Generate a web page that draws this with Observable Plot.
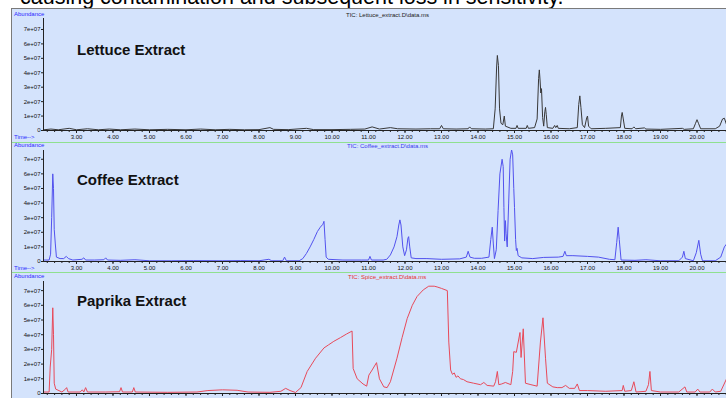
<!DOCTYPE html>
<html><head><meta charset="utf-8">
<script src="https://cdn.jsdelivr.net/npm/d3@7"></script>
<script src="https://cdn.jsdelivr.net/npm/@observablehq/plot@0.6"></script>
<style>
html,body{margin:0;padding:0;background:#fff;}
#page{position:relative;width:726px;height:398px;overflow:hidden;font-family:"Liberation Sans",Arial,sans-serif;}
#heading{position:absolute;left:20px;top:-13px;font-size:21.5px;line-height:1;color:#000;white-space:nowrap;}
#frame{position:absolute;left:11px;top:8px;width:715px;height:390px;background:#d4e3fc;border-left:1px solid #7a7a7a;border-top:1px solid #7a7a7a;}
.sep{position:absolute;left:12px;width:714px;height:1px;background:#8fe08f;}
.lbl{position:absolute;font-size:6px;line-height:6px;white-space:nowrap;}
.title{position:absolute;left:77px;font-size:15px;font-weight:bold;line-height:15px;color:#111;white-space:nowrap;}
.panel{position:absolute;left:0;}
</style></head><body>
<div id="page">
  <div id="heading">causing contamination and subsequent loss in sensitivity.</div>
  <div id="frame"></div>
  <div class="sep" style="top:142px"></div>
  <div class="sep" style="top:272px"></div>
</div>
<script>
// ---------- data (abundance in units of 1e+07) ----------
const lettuceTime = [2.10,2.3,2.5,2.8,3.0,3.3,3.6,3.9,4.2,4.6,5.0,5.5,6.0,6.4,6.8,7.2,7.6,8.0,8.3,8.4,8.8,9.3,9.5,10.0,10.5,10.9,11.1,11.3,11.6,11.8,12.3,12.7,12.95,13.0,13.05,13.4,13.73,13.77,13.82,14.2,14.42,14.47,14.51,14.53,14.56,14.59,14.63,14.68,14.72,14.75,14.9,15.04,15.07,15.1,15.32,15.35,15.38,15.55,15.62,15.66,15.68,15.7,15.72,15.74,15.77,15.8,15.83,15.85,15.87,15.9,16.05,16.1,16.13,16.17,16.2,16.5,16.72,16.76,16.79,16.82,16.86,16.92,16.98,17.0,17.03,17.1,17.5,17.9,17.93,17.95,17.98,18.02,18.22,18.27,18.32,18.56,18.6,19.0,19.6,19.65,19.9,19.96,20.0,20.04,20.1,20.5,20.62,20.7,20.75,20.81];
const lettuceAbund = [0.05,0.1,0.05,0.15,0.05,0.12,0.05,0.1,0.05,0.1,0.05,0.08,0.05,0.1,0.05,0.08,0.05,0.06,0.2,0.08,0.06,0.15,0.06,0.06,0.08,0.1,0.25,0.1,0.2,0.12,0.1,0.12,0.12,0.35,0.12,0.1,0.12,0.25,0.12,0.1,0.12,1.5,4.4,5.2,4.5,1.5,0.5,0.4,1.0,0.3,0.15,0.15,0.35,0.15,0.15,0.35,0.15,0.2,0.8,3.6,4.2,3.5,2.6,2.9,0.9,0.3,1.3,1.6,1.1,0.2,0.15,0.35,0.2,0.35,0.15,0.12,0.2,1.8,2.4,1.6,0.4,0.2,0.9,1.0,0.3,0.12,0.15,0.2,1.0,1.25,0.8,0.15,0.12,0.25,0.12,0.18,0.1,0.08,0.15,0.08,0.12,0.5,0.75,0.5,0.12,0.12,0.3,0.8,0.85,0.4];

const coffeeTime = [2.10,2.25,2.29,2.32,2.35,2.37,2.39,2.42,2.45,2.55,2.65,2.72,2.78,2.9,3.15,3.2,3.25,3.5,3.75,3.8,3.85,4.2,4.6,5.0,5.6,6.2,7.0,7.5,8.0,8.27,8.35,8.65,8.7,8.75,9.1,9.2,9.3,9.4,9.5,9.6,9.68,9.75,9.78,9.81,9.84,9.9,10.3,10.8,11.0,11.04,11.08,11.4,11.5,11.6,11.7,11.78,11.83,11.86,11.89,11.94,11.99,12.04,12.08,12.1,12.13,12.17,12.3,12.6,13.0,13.5,13.68,13.73,13.78,13.9,14.1,14.3,14.35,14.39,14.42,14.45,14.5,14.55,14.6,14.66,14.69,14.71,14.73,14.75,14.77,14.8,14.84,14.88,14.92,14.95,14.98,15.0,15.03,15.05,15.07,15.1,15.2,15.5,15.8,16.2,16.33,16.38,16.42,16.6,17.0,17.3,17.6,17.75,17.8,17.84,17.87,17.92,18.3,18.6,19.0,19.5,19.6,19.64,19.68,19.9,19.98,20.05,20.1,20.15,20.5,20.65,20.75,20.81];
const coffeeAbund = [0.1,0.1,0.5,3.0,6.0,5.0,2.2,1.2,0.3,0.2,0.2,0.35,0.2,0.1,0.15,0.25,0.1,0.1,0.12,0.25,0.1,0.08,0.12,0.05,0.05,0.06,0.05,0.06,0.05,0.15,0.05,0.05,0.3,0.05,0.05,0.2,0.55,1.0,1.5,2.05,2.35,2.55,2.75,1.5,0.3,0.15,0.1,0.1,0.1,0.35,0.1,0.1,0.15,0.45,1.0,1.7,2.5,2.85,2.5,1.0,0.4,0.8,1.6,1.7,1.0,0.25,0.2,0.2,0.15,0.18,0.3,0.7,0.3,0.22,0.22,0.3,1.5,2.35,1.2,0.2,0.8,3.5,6.0,7.0,6.5,3.7,1.4,2.8,1.9,1.0,4.0,7.0,7.65,7.3,5.0,3.7,1.5,0.75,0.9,0.4,0.25,0.2,0.28,0.3,0.35,0.7,0.4,0.4,0.35,0.3,0.15,0.12,1.3,2.35,1.5,0.1,0.08,0.12,0.05,0.05,0.3,0.7,0.2,0.05,0.6,1.45,0.5,0.05,0.05,0.3,1.0,1.2];

const paprikaTime = [2.10,2.25,2.28,2.32,2.35,2.37,2.39,2.43,2.6,2.7,2.73,2.77,3.1,3.16,3.2,3.25,3.3,3.8,4.18,4.22,4.26,4.53,4.57,4.61,5.5,6.3,6.6,7.0,7.4,7.7,8.3,8.6,8.73,8.85,9.0,9.15,9.32,9.55,9.78,9.9,10.05,10.23,10.4,10.55,10.58,10.69,10.85,10.95,11.01,11.1,11.22,11.3,11.42,11.51,11.6,11.78,11.92,12.06,12.2,12.33,12.5,12.65,12.8,12.88,13.0,13.16,13.2,13.25,13.3,13.35,13.4,13.45,13.52,13.6,13.7,13.88,14.07,14.16,14.25,14.43,14.48,14.53,14.57,14.65,14.75,14.9,14.95,14.98,15.05,15.15,15.18,15.24,15.3,15.45,15.62,15.71,15.78,15.85,15.9,16.05,16.17,16.3,16.4,16.5,16.65,16.72,16.78,17.0,17.5,17.95,17.98,18.02,18.2,18.27,18.33,18.6,18.67,18.71,18.75,19.0,19.5,19.67,19.72,19.95,20.02,20.08,20.35,20.42,20.5,20.65,20.81];
const paprikaAbund = [0.1,0.1,1.8,3.0,5.83,4.0,0.7,0.3,0.1,0.3,0.4,0.1,0.1,0.25,0.1,0.4,0.1,0.1,0.12,0.4,0.1,0.1,0.4,0.1,0.08,0.1,0.2,0.25,0.22,0.1,0.08,0.15,0.35,0.2,0.07,0.4,1.5,2.4,3.1,3.3,3.55,3.8,4.05,4.25,1.7,1.0,0.65,0.5,1.25,1.6,2.1,1.0,0.45,0.4,0.8,2.4,3.8,5.1,6.0,6.6,7.05,7.3,7.3,7.25,7.15,7.0,3.5,1.6,1.3,1.4,1.1,1.2,1.0,0.95,0.8,0.7,0.6,0.75,0.55,0.5,0.8,1.5,0.6,0.65,0.75,0.6,1.5,2.85,2.8,4.15,2.45,4.4,0.7,0.6,0.5,3.5,5.15,2.4,0.7,0.45,0.4,0.4,0.55,0.35,0.35,0.65,0.2,0.2,0.15,0.2,0.55,0.15,0.2,0.8,0.1,0.15,0.6,1.5,0.2,0.1,0.1,0.45,0.1,0.1,0.3,0.1,0.1,0.3,0.1,0.15,1.0];

const xTicks = [3,4,5,6,7,8,9,10,11,12,13,14,15,16,17,18,19,20];
const yTicks = [0,1,2,3,4,5,6,7];
const xDomain = [2.096, 20.808];

const panels = [
  {name:"Lettuce Extract", tic:"TIC: Lettuce_extract.D\\data.ms", time:lettuceTime, abund:lettuceAbund, color:"#383838", ticColor:"#222",
   top:0, height:143, mt:18, mb:13, ymax:7.76, titleTop:41.8, abTop:10.6, ticTop:11.6, ticLeft:346, timeTop:133.6},
  {name:"Coffee Extract", tic:"TIC: Coffee_extract.D\\data.ms", time:coffeeTime, abund:coffeeAbund, color:"#5252ee", ticColor:"#3a3aee",
   top:143, height:128, mt:7, mb:10, ymax:7.6, titleTop:171.6, abTop:142.1, ticTop:142.8, ticLeft:347, timeTop:265.1},
  {name:"Paprika Extract", tic:"TIC: Spice_extract.D\\data.ms", time:paprikaTime, abund:paprikaAbund, color:"#e84a5a", ticColor:"#e83030",
   top:271, height:135, mt:10, mb:13, ymax:7.62, titleTop:293, abTop:272.8, ticTop:274.1, ticLeft:348, timeTop:null}
];

const page = document.getElementById("page");
const minorTicks = d3.range(2.2, 20.81, 0.2);
const fmtY = d => d === 0 ? "0" : d + "e+07";

for (const p of panels) {
  const data = p.time.map((t, i) => ({t, v: p.abund[i]}));
  const svg = Plot.plot({
    width: 726, height: p.height,
    marginTop: p.mt, marginBottom: p.mb, marginLeft: 43, marginRight: 0,
    style: {background: "transparent", fontSize: "6px", fontFamily: "Liberation Sans, Arial, sans-serif", color: "#111", overflow: "visible"},
    x: {domain: xDomain, label: null},
    y: {domain: [0, p.ymax], label: null},
    marks: [
      Plot.line(data, {x: "t", y: "v", stroke: p.color, strokeWidth: 1, clip: true}),
      Plot.ruleX([xDomain[0]], {stroke: "#222", strokeWidth: 1}),
      Plot.ruleY([0], {stroke: "#222", strokeWidth: 1}),
      Plot.axisY({ticks: yTicks, tickFormat: fmtY, tickSize: 2, tickPadding: 1, fontSize: 6, stroke: "#222"}),
      Plot.axisX({ticks: minorTicks, tickSize: 2, tickFormat: () => "", stroke: "#222"}),
      Plot.axisX({ticks: xTicks, tickFormat: d => d.toFixed(2), tickSize: 3, tickPadding: 1, fontSize: 6, stroke: "#222"})
    ]
  });
  svg.classList.add("panel");
  svg.style.position = "absolute";
  svg.style.top = p.top + "px";
  svg.style.left = "0px";
  page.appendChild(svg);

  const add = (cls, text, left, top, color) => {
    const d = document.createElement("div");
    d.className = cls; d.textContent = text;
    d.style.left = left + "px"; d.style.top = top + "px";
    if (color) d.style.color = color;
    page.appendChild(d);
  };
  add("title", p.name, 77, p.titleTop);
  add("lbl", "Abundance", 14, p.abTop, "#2a2aff");
  add("lbl", p.tic, p.ticLeft, p.ticTop, p.ticColor);
  if (p.timeTop !== null) add("lbl", "Time-->", 14, p.timeTop, "#2a2aff");
}
</script>
</body></html>
